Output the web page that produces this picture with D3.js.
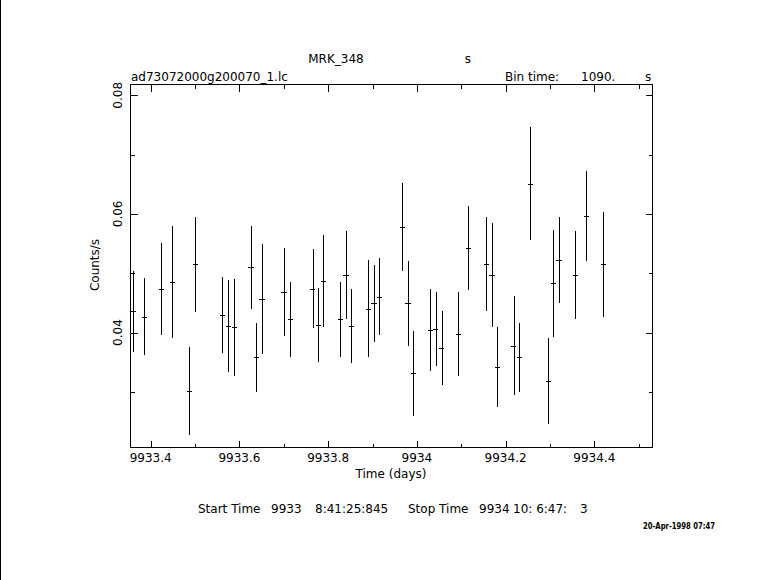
<!DOCTYPE html>
<html>
<head>
<meta charset="utf-8">
<script src="https://cdn.jsdelivr.net/npm/d3@7/dist/d3.min.js"></script>
<style>
  html, body { margin: 0; padding: 0; background: #fff; }
  svg { display: block; }
  text { font-family: "DejaVu Sans", sans-serif; fill: #000; white-space: pre; }
</style>
</head>
<body>
<svg id="chart" width="781" height="580"></svg>
<script>
// ---- data ----
const times = [
  9933.3608, 9933.3856, 9933.4240, 9933.4488, 9933.4871, 9933.5006, 9933.5615,
  9933.5750, 9933.5885, 9933.6261, 9933.6381, 9933.6502, 9933.7005, 9933.7148,
  9933.7651, 9933.7779, 9933.7892, 9933.8275, 9933.8403, 9933.8523, 9933.8906,
  9933.9034, 9933.9154, 9933.9673, 9933.9793, 9933.9921, 9934.0304, 9934.0424,
  9934.0559, 9934.0935, 9934.1160, 9934.1566, 9934.1687, 9934.1814, 9934.2182,
  9934.2310, 9934.2558, 9934.2964, 9934.3076, 9934.3197, 9934.3572, 9934.3820,
  9934.4204
];
const rates = [
  0.0436, 0.0427, 0.0473, 0.0485, 0.0301, 0.0515, 0.0430,
  0.0411, 0.0409, 0.0510, 0.0358, 0.0457, 0.0468, 0.0422,
  0.0474, 0.0413, 0.0487, 0.0422, 0.0497, 0.0411, 0.0440,
  0.0449, 0.0460, 0.0578, 0.0449, 0.0331, 0.0404, 0.0406,
  0.0374, 0.0398, 0.0542, 0.0515, 0.0497, 0.0342, 0.0378,
  0.0358, 0.0651, 0.0318, 0.0483, 0.0522, 0.0497, 0.0596,
  0.0515
];
const errors = [
  0.0068, 0.0065, 0.0078, 0.0094, 0.0074, 0.0080, 0.0064,
  0.0077, 0.0082, 0.0070, 0.0058, 0.0093, 0.0074, 0.0063,
  0.0067, 0.0062, 0.0077, 0.0063, 0.0075, 0.0063, 0.0082,
  0.0065, 0.0065, 0.0074, 0.0071, 0.0072, 0.0069, 0.0062,
  0.0063, 0.0071, 0.0071, 0.0079, 0.0088, 0.0068, 0.0083,
  0.0058, 0.0095, 0.0072, 0.0090, 0.0073, 0.0075, 0.0076,
  0.0089
];
const binTime = 1090; // seconds
const xMajorTicks = [9933.4, 9933.6, 9933.8, 9934.0, 9934.2, 9934.4];
const xTickLabels = ["9933.4", "9933.6", "9933.8", "9934", "9934.2", "9934.4"];
const xMinorTicks = [9933.5, 9933.7, 9933.9, 9934.1, 9934.3, 9934.5];
const yMajorTicks = [0.04, 0.06, 0.08];
const yTickLabels = ["0.04", "0.06", "0.08"];
const yMinorTicks = [0.03, 0.05, 0.07];
const footerParts = ["Start Time", "9933", "8:41:25:845", "Stop Time", "9934", "10: 6:47:", "3"];

// ---- layout ----
const svg = d3.select("#chart");
const L = 130, R = 652, T = 84, B = 447;
const x = d3.scaleLinear().domain([9933.3533, 9934.530]).range([L, R]);
const y = d3.scaleLinear().domain([0.0207, 0.0819]).range([B, T]);
const MAJ = 7, MIN = 4;

// left border line of the page
svg.append("line").attr("x1", 0.5).attr("x2", 0.5).attr("y1", 0).attr("y2", 580)
  .attr("stroke", "#000").attr("stroke-width", 1);

// frame
svg.append("rect").attr("x", L + 0.5).attr("y", T + 0.5)
  .attr("width", R - L).attr("height", B - T)
  .attr("fill", "none").attr("stroke", "#000").attr("stroke-width", 1)
  .attr("shape-rendering", "crispEdges");

function styleAxis(g) {
  g.select(".domain").remove();
  g.selectAll("line").attr("stroke", "#000").attr("stroke-width", 1)
    .attr("shape-rendering", "crispEdges");
  g.selectAll("text").remove();
}

// bottom / top ticks (inward)
[[d3.axisBottom, B], [d3.axisTop, T]].forEach(([fn, pos]) => {
  svg.append("g").attr("transform", `translate(0,${pos + 0.5})`)
    .call(fn(x).tickValues(xMajorTicks).tickSize(-MAJ)).call(styleAxis);
  svg.append("g").attr("transform", `translate(0,${pos + 0.5})`)
    .call(fn(x).tickValues(xMinorTicks.filter(v => v <= x.domain()[1])).tickSize(-MIN)).call(styleAxis);
});
// left / right ticks (inward)
[[d3.axisLeft, L], [d3.axisRight, R]].forEach(([fn, pos]) => {
  svg.append("g").attr("transform", `translate(${pos + 0.5},0)`)
    .call(fn(y).tickValues(yMajorTicks).tickSize(-MAJ)).call(styleAxis);
  svg.append("g").attr("transform", `translate(${pos + 0.5},0)`)
    .call(fn(y).tickValues(yMinorTicks).tickSize(-MIN)).call(styleAxis);
});

// x tick labels
svg.append("g").selectAll("text").data(xMajorTicks).join("text")
  .attr("x", d => x(d)).attr("y", 462)
  .attr("text-anchor", "middle").attr("font-size", 12)
  .text((d, i) => xTickLabels[i]);

// y tick labels (rotated)
svg.append("g").selectAll("text").data(yMajorTicks).join("text")
  .attr("transform", d => `translate(122,${y(d)}) rotate(-90)`)
  .attr("text-anchor", "middle").attr("font-size", 12)
  .text((d, i) => yTickLabels[i]);

// axis titles
svg.append("text").attr("x", 391).attr("y", 478).attr("text-anchor", "middle")
  .attr("font-size", 12).text("Time (days)");
svg.append("text").attr("transform", "translate(99,265) rotate(-90)")
  .attr("text-anchor", "middle").attr("font-size", 12).text("Counts/s");

// header texts
svg.append("text").attr("x", 336).attr("y", 63).attr("text-anchor", "middle")
  .attr("font-size", 12).text("MRK_348");
svg.append("text").attr("x", 468).attr("y", 63).attr("text-anchor", "middle")
  .attr("font-size", 12).text("s");
svg.append("text").attr("x", 131).attr("y", 81).attr("font-size", 12)
  .text("ad73072000g200070_1.lc");
svg.append("text").attr("x", 505).attr("y", 81).attr("font-size", 12).text("Bin time:");
svg.append("text").attr("x", 581).attr("y", 81).attr("font-size", 12).text("1090.");
svg.append("text").attr("x", 645).attr("y", 81).attr("font-size", 12).text("s");

// footer texts
const footerX = [198, 271, 315, 408, 479, 513, 580];
svg.append("g").selectAll("text").data(footerParts).join("text")
  .attr("x", (d, i) => footerX[i]).attr("y", 513).attr("font-size", 12)
  .text(d => d);
svg.append("text").attr("x", 643).attr("y", 529).attr("font-size", 8)
  .attr("font-weight", "bold").attr("textLength", 72).attr("lengthAdjust", "spacingAndGlyphs")
  .text("20-Apr-1998 07:47");

// ---- error-bar points ----
const half = binTime / 2 / 86400;
const pts = times.map((t, i) => ({ t, v: rates[i], e: errors[i] }));
const g = svg.append("g").attr("stroke", "#000").attr("stroke-width", 1)
  .attr("shape-rendering", "crispEdges");
g.selectAll("line.v").data(pts).join("line").attr("class", "v")
  .attr("x1", d => Math.round(x(d.t)) + 0.5).attr("x2", d => Math.round(x(d.t)) + 0.5)
  .attr("y1", d => y(d.v - d.e)).attr("y2", d => y(d.v + d.e));
g.selectAll("line.h").data(pts).join("line").attr("class", "h")
  .attr("x1", d => x(d.t - half)).attr("x2", d => x(d.t + half))
  .attr("y1", d => Math.round(y(d.v)) + 0.5).attr("y2", d => Math.round(y(d.v)) + 0.5);
</script>
</body>
</html>
